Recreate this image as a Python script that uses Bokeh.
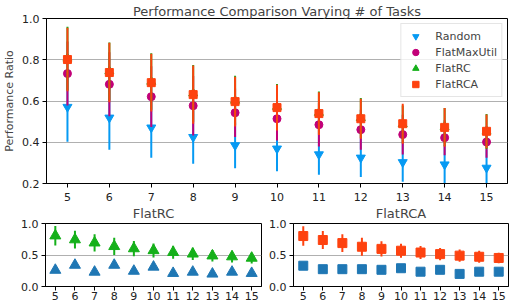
from bokeh.plotting import figure
from bokeh.models import (ColumnDataSource, Legend, LegendItem, Range1d, FixedTicker,
                          NumeralTickFormatter)
from bokeh.layouts import column, row
from bokeh.embed import file_html
from bokeh.resources import INLINE

# ---------------- data ----------------
tasks = [5, 6, 7, 8, 9, 10, 11, 12, 13, 14, 15]

random_mean = [0.571, 0.519, 0.471, 0.425, 0.385, 0.369, 0.341, 0.325, 0.303, 0.292, 0.276]
random_err = [0.168, 0.155, 0.146, 0.129, 0.111, 0.109, 0.099, 0.094, 0.094, 0.092, 0.090]

maxutil_mean = [0.733, 0.681, 0.621, 0.577, 0.543, 0.514, 0.485, 0.461, 0.437, 0.422, 0.401]
maxutil_err = [0.155, 0.155, 0.147, 0.144, 0.118, 0.105, 0.105, 0.097, 0.096, 0.085, 0.076]

rc_mean = [0.806, 0.744, 0.694, 0.637, 0.602, 0.572, 0.543, 0.518, 0.488, 0.474, 0.452]
rc_err = [0.154, 0.140, 0.137, 0.138, 0.120, 0.110, 0.103, 0.097, 0.090, 0.092, 0.085]

rca_mean = [0.801, 0.738, 0.689, 0.631, 0.597, 0.568, 0.539, 0.514, 0.490, 0.472, 0.453]
rca_err = [0.154, 0.144, 0.140, 0.141, 0.121, 0.111, 0.104, 0.097, 0.097, 0.094, 0.082]

rc_baseline = [0.26, 0.34, 0.23, 0.34, 0.245, 0.31, 0.21, 0.23, 0.20, 0.23, 0.21]
rca_baseline = [0.33, 0.275, 0.275, 0.275, 0.265, 0.29, 0.235, 0.265, 0.20, 0.235, 0.235]

y_ticks_main = [0.2, 0.4, 0.6, 0.8, 1.0]
y_ticks_sub = [0.0, 0.5, 1.0]

C_RANDOM = "#069af3"
C_MAXUTIL = "#c20078"
C_RC = "#15b01a"
C_RCA = "#fe420f"
C_BASE = "#1f77b4"
FONT = "DejaVu Sans"


def src(mean, err):
    return ColumnDataSource(dict(
        x=tasks, y=mean,
        lo=[m - e for m, e in zip(mean, err)],
        hi=[m + e for m, e in zip(mean, err)],
    ))


def style(p, yticks, title_standoff, xstandoff):
    p.xaxis.ticker = FixedTicker(ticks=tasks)
    p.yaxis.ticker = FixedTicker(ticks=yticks)
    p.yaxis.formatter = NumeralTickFormatter(format="0.0")
    for ax in (p.xaxis[0], p.yaxis[0]):
        ax.major_tick_out = 4
        ax.major_tick_in = 0
        ax.minor_tick_out = 0
        ax.minor_tick_in = 0
        ax.major_label_text_font = FONT
        ax.major_label_text_font_size = "11px"
        ax.major_label_text_color = "#222222"
        ax.axis_line_color = "black"
        ax.major_tick_line_color = "black"
    p.xaxis.major_label_standoff = xstandoff
    p.yaxis.major_label_standoff = 3
    p.xgrid.visible = False
    p.ygrid.grid_line_color = "#b0b0b0"
    p.ygrid.grid_line_width = 1
    p.outline_line_color = "black"
    p.outline_line_alpha = 1
    p.outline_line_width = 1
    p.title.text_font = FONT
    p.title.text_font_size = "13px"
    p.title.text_font_style = "normal"
    p.title.align = "center"
    p.title.standoff = title_standoff


# ---------------- main plot ----------------
p = figure(frame_width=461, frame_height=165, output_backend="svg", toolbar_location=None,
           x_range=Range1d(4.5, 15.5), y_range=Range1d(0.2, 1.0),
           title="Performance Comparison Varying # of Tasks",
           min_border_left=46, min_border_right=3, min_border_top=18, min_border_bottom=22)
style(p, y_ticks_main, 0, 5)
p.yaxis.axis_label = "Performance Ratio"
p.yaxis.axis_label_text_font = FONT
p.yaxis.axis_label_text_font_size = "11px"
p.yaxis.axis_label_text_font_style = "normal"
p.yaxis.axis_label_standoff = 3

items = []
for name, mean, err, color, marker, size in [
    ("Random", random_mean, random_err, C_RANDOM, "inverted_triangle", 9),
    ("FlatMaxUtil", maxutil_mean, maxutil_err, C_MAXUTIL, "circle", 8),
    ("FlatRC", rc_mean, rc_err, C_RC, "triangle", 9),
    ("FlatRCA", rca_mean, rca_err, C_RCA, "square", 8),
]:
    s = src(mean, err)
    p.segment(x0="x", y0="lo", x1="x", y1="hi", source=s, line_color=color, line_width=2)
    r = p.scatter(x="x", y="y", source=s, marker=marker, size=size,
                  fill_color=color, line_color=color)
    items.append(LegendItem(label=name, renderers=[r]))

legend = Legend(items=items, location="top_right", margin=5, padding=4, spacing=0,
                glyph_width=20, glyph_height=16, label_standoff=10,
                label_text_font=FONT, label_text_font_size="11px",
                label_height=14,
                border_line_color="#cccccc", background_fill_alpha=0.8)
p.add_layout(legend)


# ---------------- sub plots ----------------
def subplot(title, width, left, right, mean, err, color, base, marker, size):
    q = figure(width=width, frame_height=63, output_backend="svg", toolbar_location=None,
               x_range=Range1d(4.5, 15.5), y_range=Range1d(0.0, 1.0), title=title,
               min_border_left=left, min_border_right=right,
               min_border_top=21, min_border_bottom=18)
    style(q, y_ticks_sub, 5, 1)
    q.border_fill_alpha = 0
    s = src(mean, err)
    q.segment(x0="x", y0="lo", x1="x", y1="hi", source=s, line_color=color, line_width=2)
    q.scatter(x="x", y="y", source=s, marker=marker, size=size,
              fill_color=color, line_color=color)
    b = ColumnDataSource(dict(x=tasks, y=base))
    q.scatter(x="x", y="y", source=b, marker=marker, size=size,
              fill_color=C_BASE, line_color=C_BASE)
    return q


q1 = subplot("FlatRC", 266, 45, 5, rc_mean, rc_err, C_RC, rc_baseline, "triangle", 11)
q2 = subplot("FlatRCA", 244, 26, 2, rca_mean, rca_err, C_RCA, rca_baseline, "square", 9)

bottom = row(q1, q2, styles={"margin-top": "-4px"})
layout = column(p, bottom)
open("out.html", "w").write(file_html(layout, INLINE))
